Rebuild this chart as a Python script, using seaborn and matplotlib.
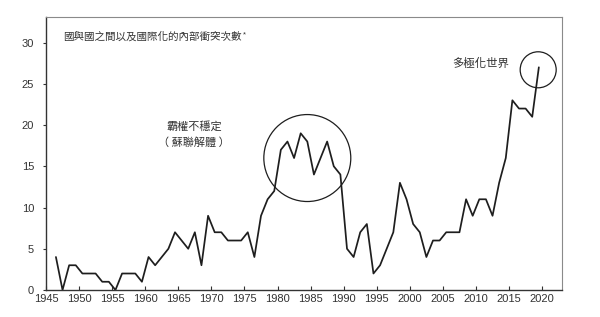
import matplotlib
matplotlib.use("Agg")
import matplotlib.pyplot as plt
import seaborn as sns
import pandas as pd

# ---- data ----
years = list(range(1946, 2020))
conflicts = [4, 0, 3, 3, 2, 2, 2, 1, 1, 0,
             2, 2, 2, 1, 4, 3, 4, 5, 7, 6,
             5, 7, 3, 9, 7, 7, 6, 6, 6, 7,
             4, 9, 11, 12, 17, 18, 16, 19, 18, 14,
             16, 18, 15, 14, 5, 4, 7, 8, 2, 3,
             5, 7, 13, 11, 8, 7, 4, 6, 6, 7,
             7, 7, 11, 9, 11, 11, 9, 13, 16, 23,
             22, 22, 21, 27]
x_ticks = [1945, 1950, 1955, 1960, 1965, 1970, 1975, 1980, 1985, 1990,
           1995, 2000, 2005, 2010, 2015, 2020]
y_ticks = [0, 5, 10, 15, 20, 25, 30]
title_text = "國與國之間以及國際化的內部衝突次數"
title_mark = "*"
label_hegemony = "霸權不穩定\n（ 蘇聯解體 ）"
label_multipolar = "多極化世界"
circle_x = [1984.5, 2019.4]
circle_y = [16.0, 26.7]

# annual counts drawn at mid-year
df = pd.DataFrame({"year": [y + 0.5 for y in years], "count": conflicts})

sns.set_style("ticks")
plt.rcParams["font.family"] = ["Liberation Sans", "Noto Sans CJK TC", "DejaVu Sans"]

fig = plt.figure(figsize=(6.0, 3.17), dpi=100)
ax = fig.add_axes([46 / 600, 1 - 290 / 317, (562 - 46) / 600, (290 - 17) / 317])

sns.lineplot(data=df, x="year", y="count", ax=ax, color="#1e1e1e", linewidth=1.25)

# circles highlighting periods
ax.scatter([circle_x[0]], [circle_y[0]], s=3920, facecolors="none",
           edgecolors="#1e1e1e", linewidths=0.9, zorder=3)
ax.scatter([circle_x[1]], [circle_y[1]], s=672, facecolors="none",
           edgecolors="#1e1e1e", linewidths=0.9, zorder=3)

ax.set_xlim(1945, 2023)
ax.set_ylim(0, 33.1)
ax.set_xticks(x_ticks)
ax.set_yticks(y_ticks)
ax.set_xlabel("")
ax.set_ylabel("")

ax.tick_params(axis="x", direction="in", length=3, width=0.8, labelsize=8,
               colors="#333333", pad=3)
ax.tick_params(axis="y", direction="out", length=2.5, width=0.8, labelsize=8,
               colors="#333333", pad=6)
for s in ["left", "bottom"]:
    ax.spines[s].set_color("#333333")
    ax.spines[s].set_linewidth(1.0)
for s in ["top", "right"]:
    ax.spines[s].set_color("#8a8a8a")
    ax.spines[s].set_linewidth(0.8)

cjk = ["Noto Sans CJK TC", "DejaVu Sans"]
t = ax.text(1947.6, 30.7, title_text, ha="left", va="center", fontsize=7.6,
            color="#333333", family=cjk)
ax.annotate(title_mark, xy=(1.0, 1.0), xycoords=t, xytext=(1, 0),
            textcoords="offset points", ha="left", va="top", fontsize=5.5,
            color="#333333")
ax.text(1967.4, 18.85, label_hegemony, ha="center", va="center", fontsize=8.0,
        color="#333333", family=cjk, linespacing=1.55)
ax.text(2010.7, 27.5, label_multipolar, ha="center", va="center", fontsize=8.2,
        color="#333333", family=cjk)

fig.savefig("out.png", dpi=100)
